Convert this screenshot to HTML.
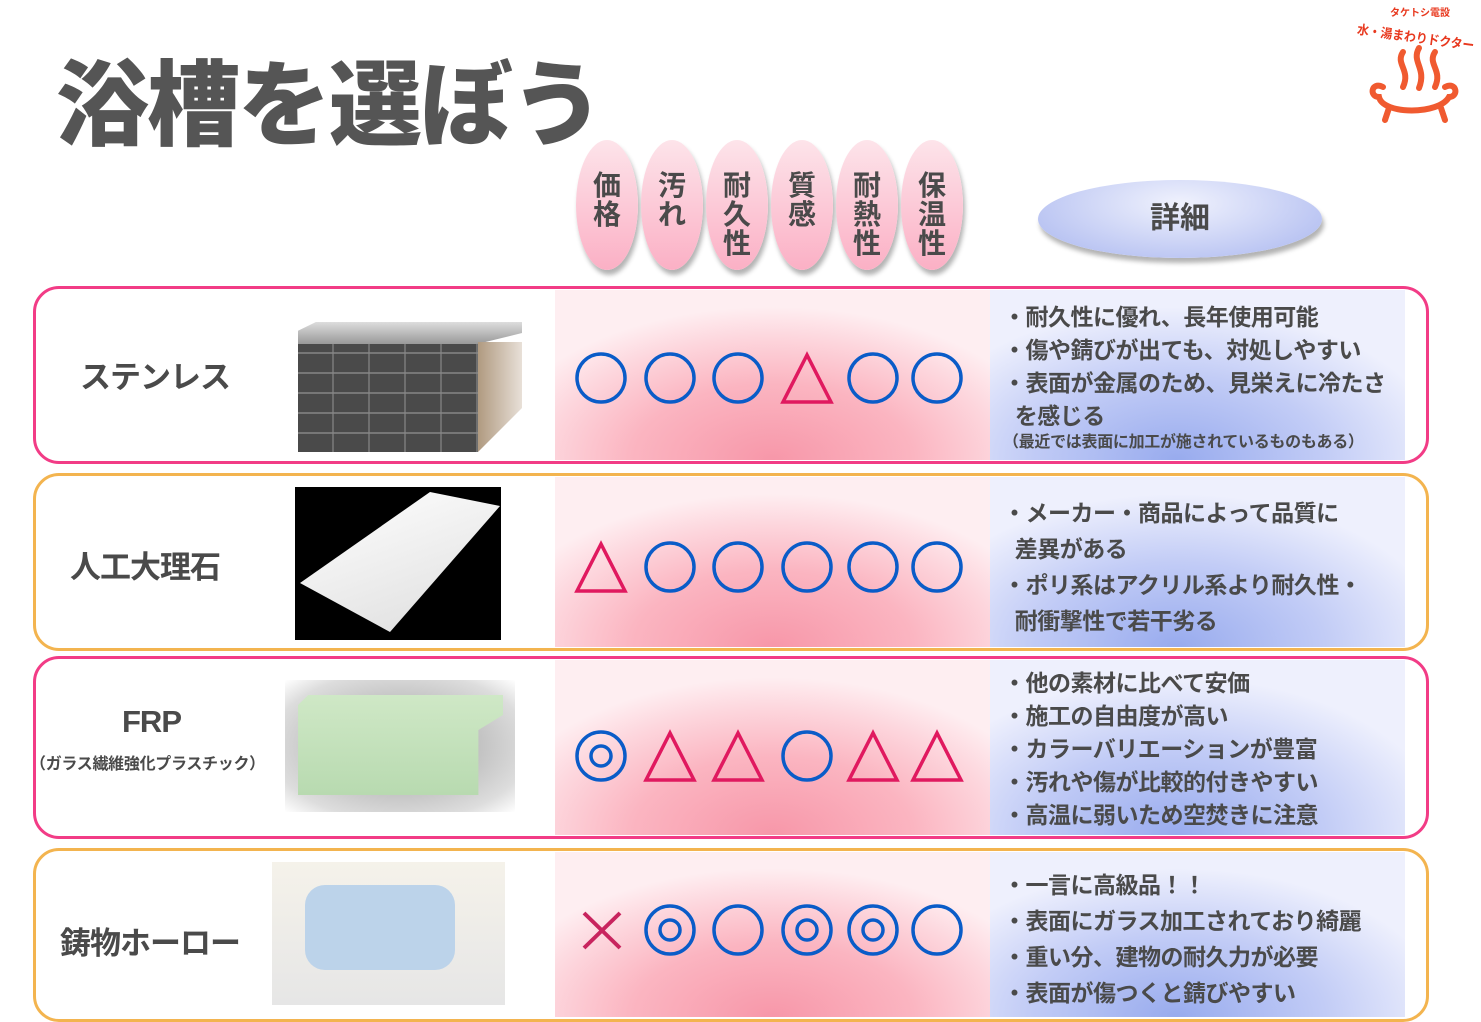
<!DOCTYPE html>
<html><head><meta charset="utf-8"><style>
*{margin:0;padding:0;box-sizing:border-box}
body{width:1481px;height:1022px;position:relative;background:#fff;overflow:hidden;font-family:"Liberation Sans","Noto Sans CJK JP",sans-serif;font-weight:bold;color:#4a4a4a}
.a{position:absolute}
.pk{position:absolute;left:555px;width:435px;background:radial-gradient(ellipse 65% 90% at 50% 100%,#f797a9 0%,#fbb5c1 50%,#fdd6dd 80%,#feeef1 100%)}
.bl{position:absolute;left:990px;width:415px;background:radial-gradient(ellipse 65% 90% at 45% 100%,#98abee 0%,#c2ccf6 55%,#eef0fd 100%)}
.row{position:absolute;left:33px;width:1396px;border:3.5px solid;border-radius:26px}
.hd{position:absolute;top:140px;width:62px;height:130px;border-radius:50%;background:linear-gradient(#fde4ea,#fbb0c5);box-shadow:2px 5px 5px rgba(0,0,0,.3);font-size:28px;line-height:29px;text-align:center;padding-top:31px;color:#4a4a4a}
.tx{position:absolute;left:1003px;font-size:23px;line-height:33px;color:#4a4a4a;white-space:nowrap;letter-spacing:-0.5px}
.nm{position:absolute;font-size:31px;color:#4a4a4a;white-space:nowrap;letter-spacing:-1px}
</style></head><body>
<div class="a" style="left:56px;top:30px;font-size:93px;letter-spacing:-2px;color:#555;font-weight:900">浴槽を選ぼう</div>

<svg class="a" style="left:1345px;top:0" width="136" height="135" viewBox="0 0 136 135">
<text x="75" y="16" font-size="10" fill="#e8391f" text-anchor="middle" font-weight="bold">タケトシ電設</text>
<text x="70" y="42" font-size="13" fill="#e8391f" text-anchor="middle" font-weight="bold" textLength="118" lengthAdjust="spacingAndGlyphs" transform="rotate(8 70 42)">水・湯まわりドクター</text>
<g fill="none" stroke="#f05a30" stroke-width="6" stroke-linecap="round">
<path d="M58 52c-8 12 8 18 0 35"/><path d="M74 48c-8 14 8 20 0 40"/><path d="M90 52c-8 12 8 18 0 35"/>
<path d="M38 87c-12-6-14 10-4 10c4 18 60 18 70 0c10 0 8-16-4-10"/>
<path d="M44 108l-4 12M96 108l4 12"/></g></svg>

<div class="hd" style="left:576px">価<br>格</div>
<div class="hd" style="left:641px">汚<br>れ</div>
<div class="hd" style="left:706px">耐<br>久<br>性</div>
<div class="hd" style="left:771px">質<br>感</div>
<div class="hd" style="left:836px">耐<br>熱<br>性</div>
<div class="hd" style="left:901px">保<br>温<br>性</div>
<div class="a" style="left:1038px;top:180px;width:284px;height:78px;border-radius:50%;background:radial-gradient(ellipse at 50% 30%,#f0f2fd,#a9b6ef);box-shadow:2px 5px 5px rgba(0,0,0,.3);font-size:30px;text-align:center;line-height:78px">詳細</div>

<div class="pk" style="top:290px;height:170px"></div><div class="bl" style="top:290px;height:170px"></div>
<div class="pk" style="top:477px;height:170px"></div><div class="bl" style="top:477px;height:170px"></div>
<div class="pk" style="top:660px;height:175px"></div><div class="bl" style="top:660px;height:175px"></div>
<div class="pk" style="top:852px;height:165px"></div><div class="bl" style="top:852px;height:165px"></div>

<div class="row" style="top:286px;height:178px;border-color:#f23c86"></div>
<div class="row" style="top:473px;height:178px;border-color:#f3b44f"></div>
<div class="row" style="top:656px;height:183px;border-color:#f23c86"></div>
<div class="row" style="top:848px;height:174px;border-color:#f3b44f"></div>

<div class="nm" style="left:80px;top:352px">ステンレス</div>
<div class="nm" style="left:70px;top:542px">人工大理石</div>
<div class="nm" style="left:122px;top:704px">FRP</div>
<div class="a" style="left:30px;top:750px;font-size:16px;white-space:nowrap;letter-spacing:-0.3px">（ガラス繊維強化プラスチック）</div>
<div class="nm" style="left:60px;top:918px">鋳物ホーロー</div>

<div class="a" style="left:298px;top:336px;width:180px;height:116px;background:
repeating-linear-gradient(0deg,#4a4a4a 0 18px,#777 18px 20px),#555"></div>
<div class="a" style="left:298px;top:336px;width:180px;height:116px;background:repeating-linear-gradient(90deg,transparent 0 34px,#888 34px 36px);opacity:.6"></div>
<div class="a" style="left:298px;top:322px;width:224px;height:22px;background:linear-gradient(#ddd,#999);clip-path:polygon(0 40%,8% 0,100% 0,100% 50%,80% 100%,0 100%)"></div>
<div class="a" style="left:478px;top:342px;width:44px;height:110px;background:linear-gradient(90deg,#b09a80,#e8e0d8);clip-path:polygon(0 0,100% 0,100% 60%,0 100%)"></div>
<div class="a" style="left:295px;top:487px;width:206px;height:153px;background:#000"></div>
<div class="a" style="left:300px;top:492px;width:200px;height:140px;background:linear-gradient(160deg,#fff,#ddd);clip-path:polygon(0 65%,65% 0,100% 10%,45% 100%)"></div>
<div class="a" style="left:285px;top:680px;width:230px;height:132px;background:radial-gradient(ellipse at center,#999,#ddd 80%,#fff)"></div>
<div class="a" style="left:298px;top:695px;width:205px;height:100px;background:linear-gradient(#cfe8c6,#b8dab0);clip-path:polygon(0 10%,5% 0,100% 0,100% 20%,88% 35%,88% 100%,0 100%)"></div>
<div class="a" style="left:272px;top:862px;width:233px;height:143px;background:linear-gradient(#f5f2ea,#e6e6e6)"></div>
<div class="a" style="left:305px;top:885px;width:150px;height:85px;border-radius:20px;background:#bcd3ea"></div>

<svg class="a" style="left:0;top:0" width="1481" height="1022">
<g fill="none" stroke="#0a5cc8" stroke-width="3.5">
<circle cx="601" cy="378" r="24"/><circle cx="670" cy="378" r="24"/><circle cx="738" cy="378" r="24"/><circle cx="873" cy="378" r="24"/><circle cx="937" cy="378" r="24"/>
<circle cx="670" cy="567" r="24"/><circle cx="738" cy="567" r="24"/><circle cx="807" cy="567" r="24"/><circle cx="873" cy="567" r="24"/><circle cx="937" cy="567" r="24"/>
<circle cx="601" cy="756" r="24"/><circle cx="601" cy="756" r="10"/><circle cx="807" cy="756" r="24"/>
<circle cx="670" cy="930" r="24"/><circle cx="670" cy="930" r="10"/><circle cx="738" cy="930" r="24"/><circle cx="807" cy="930" r="24"/><circle cx="807" cy="930" r="10"/><circle cx="873" cy="930" r="24"/><circle cx="873" cy="930" r="10"/><circle cx="937" cy="930" r="24"/>
</g>
<g fill="none" stroke="#e0195f" stroke-width="3.5">
<path d="M807 355L783 402H831Z"/>
<path d="M601 544L577 591H625Z"/>
<path d="M670 733L646 780H694Z"/><path d="M738 733L714 780H762Z"/><path d="M873 733L849 780H897Z"/><path d="M937 733L913 780H961Z"/>
</g>
<path d="M584 913L620 948M620 913L584 948" stroke="#c8245e" stroke-width="4"/>
</svg>

<div class="tx" style="top:301px">・耐久性に優れ、長年使用可能<br>・傷や錆びが出ても、対処しやすい<br>・表面が金属のため、見栄えに冷たさ<br>&nbsp;&nbsp;を感じる</div>
<div class="tx" style="top:432px;font-size:16px;line-height:22px;letter-spacing:-0.3px">（最近では表面に加工が施されているものもある）</div>
<div class="tx" style="top:495px;line-height:36px">・メーカー・商品によって品質に<br>&nbsp;&nbsp;差異がある<br>・ポリ系はアクリル系より耐久性・<br>&nbsp;&nbsp;耐衝撃性で若干劣る</div>
<div class="tx" style="top:667px">・他の素材に比べて安価<br>・施工の自由度が高い<br>・カラーバリエーションが豊富<br>・汚れや傷が比較的付きやすい<br>・高温に弱いため空焚きに注意</div>
<div class="tx" style="top:867px;line-height:36px">・一言に高級品！！<br>・表面にガラス加工されており綺麗<br>・重い分、建物の耐久力が必要<br>・表面が傷つくと錆びやすい</div>
</body></html>
